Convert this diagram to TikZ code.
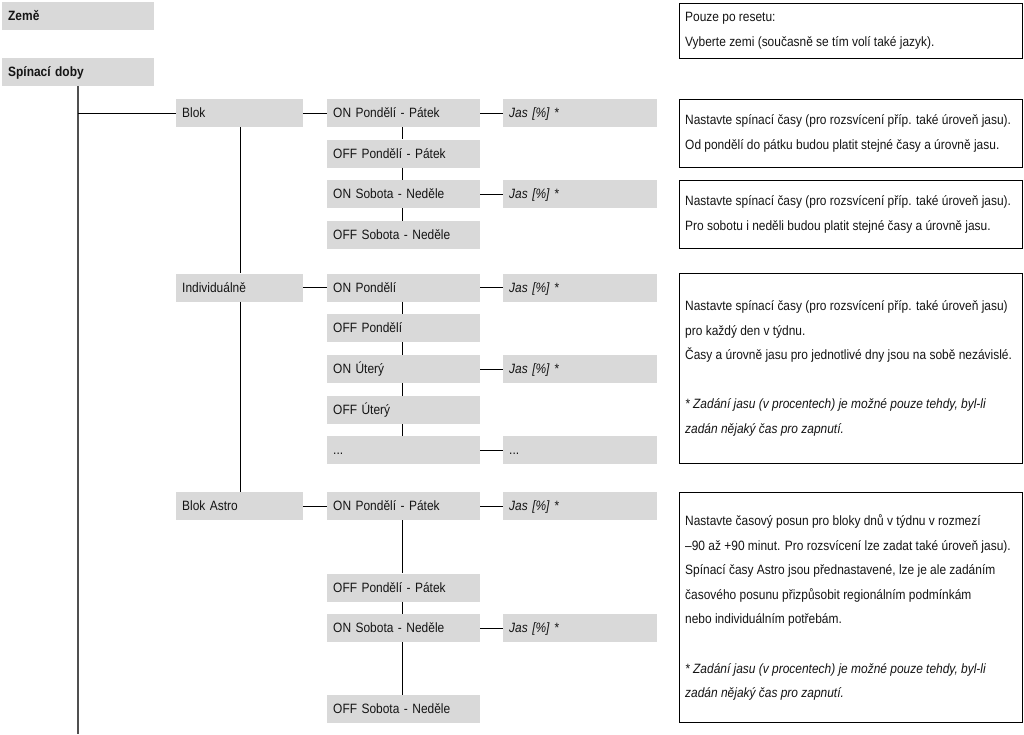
\documentclass[tikz,border=0pt]{standalone}
\usepackage{fontspec}
\setmainfont{Liberation Sans}[FakeStretch=0.885]
\definecolor{boxgray}{RGB}{217,217,217}
\definecolor{txt}{RGB}{20,20,20}
\definecolor{trunk}{RGB}{80,80,80}
\newcommand{\fsz}{\fontsize{13.5}{24.6}\selectfont}
\begin{document}
\begin{tikzpicture}[x=1pt,y=-1pt,
  gb/.style={fill=boxgray, inner xsep=6pt, inner ysep=0pt, minimum height=28pt,
    text height=11pt, text depth=1.4pt,
    align=left, anchor=west, font=\fsz, text=txt},
  w1/.style={gb, text width=140pt},
  w2/.style={gb, text width=115pt},
  w3/.style={gb, text width=141pt},
  w4/.style={gb, text width=142pt, font=\fsz\itshape},
  desc/.style={draw=black, line width=1pt, fill=white, minimum width=343pt,
    anchor=north west, inner sep=0pt},
  dtext/.style={anchor=west, align=left, font=\fsz, text=txt, inner sep=0pt},
  conn/.style={draw=black, line width=1pt}
]
\useasboundingbox[fill=white] (0,0) rectangle (1024,734);

% level 1
\node[w1, font=\fsz\bfseries] (zeme) at (2,16) {Země};
\node[w1, font=\fsz\bfseries] (spin) at (2,72) {Spínací doby};

% level 2
\node[w2] (blok) at (176,113) {Blok};
\node[w2] (indiv) at (176,287.5) {Individuálně};
\node[w2] (astro) at (176,506) {Blok Astro};

% level 3 - Blok
\node[w3] (b1) at (327,113) {ON Pondělí - Pátek};
\node[w3] (b2) at (327,153.5) {OFF Pondělí - Pátek};
\node[w3] (b3) at (327,194) {ON Sobota - Neděle};
\node[w3] (b4) at (327,235) {OFF Sobota - Neděle};
% level 3 - Individuálně
\node[w3] (i1) at (327,287.5) {ON Pondělí};
\node[w3] (i2) at (327,328) {OFF Pondělí};
\node[w3] (i3) at (327,369) {ON Úterý};
\node[w3] (i4) at (327,410) {OFF Úterý};
\node[w3] (i5) at (327,450) {...};
% level 3 - Astro
\node[w3] (a1) at (327,506) {ON Pondělí - Pátek};
\node[w3] (a2) at (327,587.5) {OFF Pondělí - Pátek};
\node[w3] (a3) at (327,628) {ON Sobota - Neděle};
\node[w3] (a4) at (327,709) {OFF Sobota - Neděle};

% level 4
\node[w4] (jb1) at (503,113) {Jas [\%] *};
\node[w4] (jb3) at (503,194) {Jas [\%] *};
\node[w4] (ji1) at (503,287.5) {Jas [\%] *};
\node[w4] (ji3) at (503,369) {Jas [\%] *};
\node[w4, font=\fsz] (ji5) at (503,450) {...};
\node[w4] (ja1) at (503,506) {Jas [\%] *};
\node[w4] (ja3) at (503,628) {Jas [\%] *};

% trunk
\coordinate (tb) at (78,734);
\draw[trunk, line width=1.6pt] (spin.south -| tb) -- (tb);
\draw[conn] (blok.west -| tb) -- (blok.west);
\draw[conn] ([xshift=64pt]blok.south west) -- ([xshift=64pt]indiv.north west);
\draw[conn] ([xshift=64pt]indiv.south west) -- ([xshift=64pt]astro.north west);

% level2 -> level3
\draw[conn] (blok.east) -- (b1.west);
\draw[conn] (indiv.east) -- (i1.west);
\draw[conn] (astro.east) -- (a1.west);

% verticals level 3
\foreach \u/\v in {b1/b2,b2/b3,b3/b4,i1/i2,i2/i3,i3/i4,i4/i5,a1/a2,a2/a3,a3/a4}
  \draw[conn] ([xshift=75pt]\u.south west) -- ([xshift=75pt]\v.north west);

% level3 -> level4
\foreach \u/\v in {b1/jb1,b3/jb3,i1/ji1,i3/ji3,i5/ji5,a1/ja1,a3/ja3}
  \draw[conn] (\u.east) -- (\v.west);

% description boxes
\node[desc, minimum height=55pt] (d1) at (679,3) {};
\node[desc, minimum height=68pt] (d2) at (679,99) {};
\node[desc, minimum height=68pt] (d3) at (679,180) {};
\node[desc, minimum height=190pt] (d4) at (679,273) {};
\node[desc, minimum height=230pt] (d5) at (679,492) {};

\node[dtext] (t1) at ([xshift=6pt]d1.west) {Pouze po resetu:\\Vyberte zemi (současně se tím volí také jazyk).};
\node[dtext] (t2) at ([xshift=6pt]d2.west) {Nastavte spínací časy (pro rozsvícení příp. také úroveň jasu).\\Od pondělí do pátku budou platit stejné časy a úrovně jasu.};
\node[dtext] (t3) at ([xshift=6pt]d3.west) {Nastavte spínací časy (pro rozsvícení příp. také úroveň jasu).\\Pro sobotu i neděli budou platit stejné časy a úrovně jasu.};
\node[dtext] (t4) at ([xshift=6pt]d4.west) {Nastavte spínací časy (pro rozsvícení příp. také úroveň jasu)\\pro každý den v týdnu.\\Časy a úrovně jasu pro jednotlivé dny jsou na sobě nezávislé.\\[24.6pt]\itshape * Zadání jasu (v procentech) je možné pouze tehdy, byl-li\\\itshape zadán nějaký čas pro zapnutí.};
\node[dtext] (t5) at ([xshift=6pt]d5.west) {Nastavte časový posun pro bloky dnů v týdnu v rozmezí\\–90 až +90 minut. Pro rozsvícení lze zadat také úroveň jasu).\\Spínací časy Astro jsou přednastavené, lze je ale zadáním\\časového posunu přizpůsobit regionálním podmínkám\\nebo individuálním potřebám.\\[24.6pt]\itshape * Zadání jasu (v procentech) je možné pouze tehdy, byl-li\\\itshape zadán nějaký čas pro zapnutí.};
\end{tikzpicture}
\end{document}
